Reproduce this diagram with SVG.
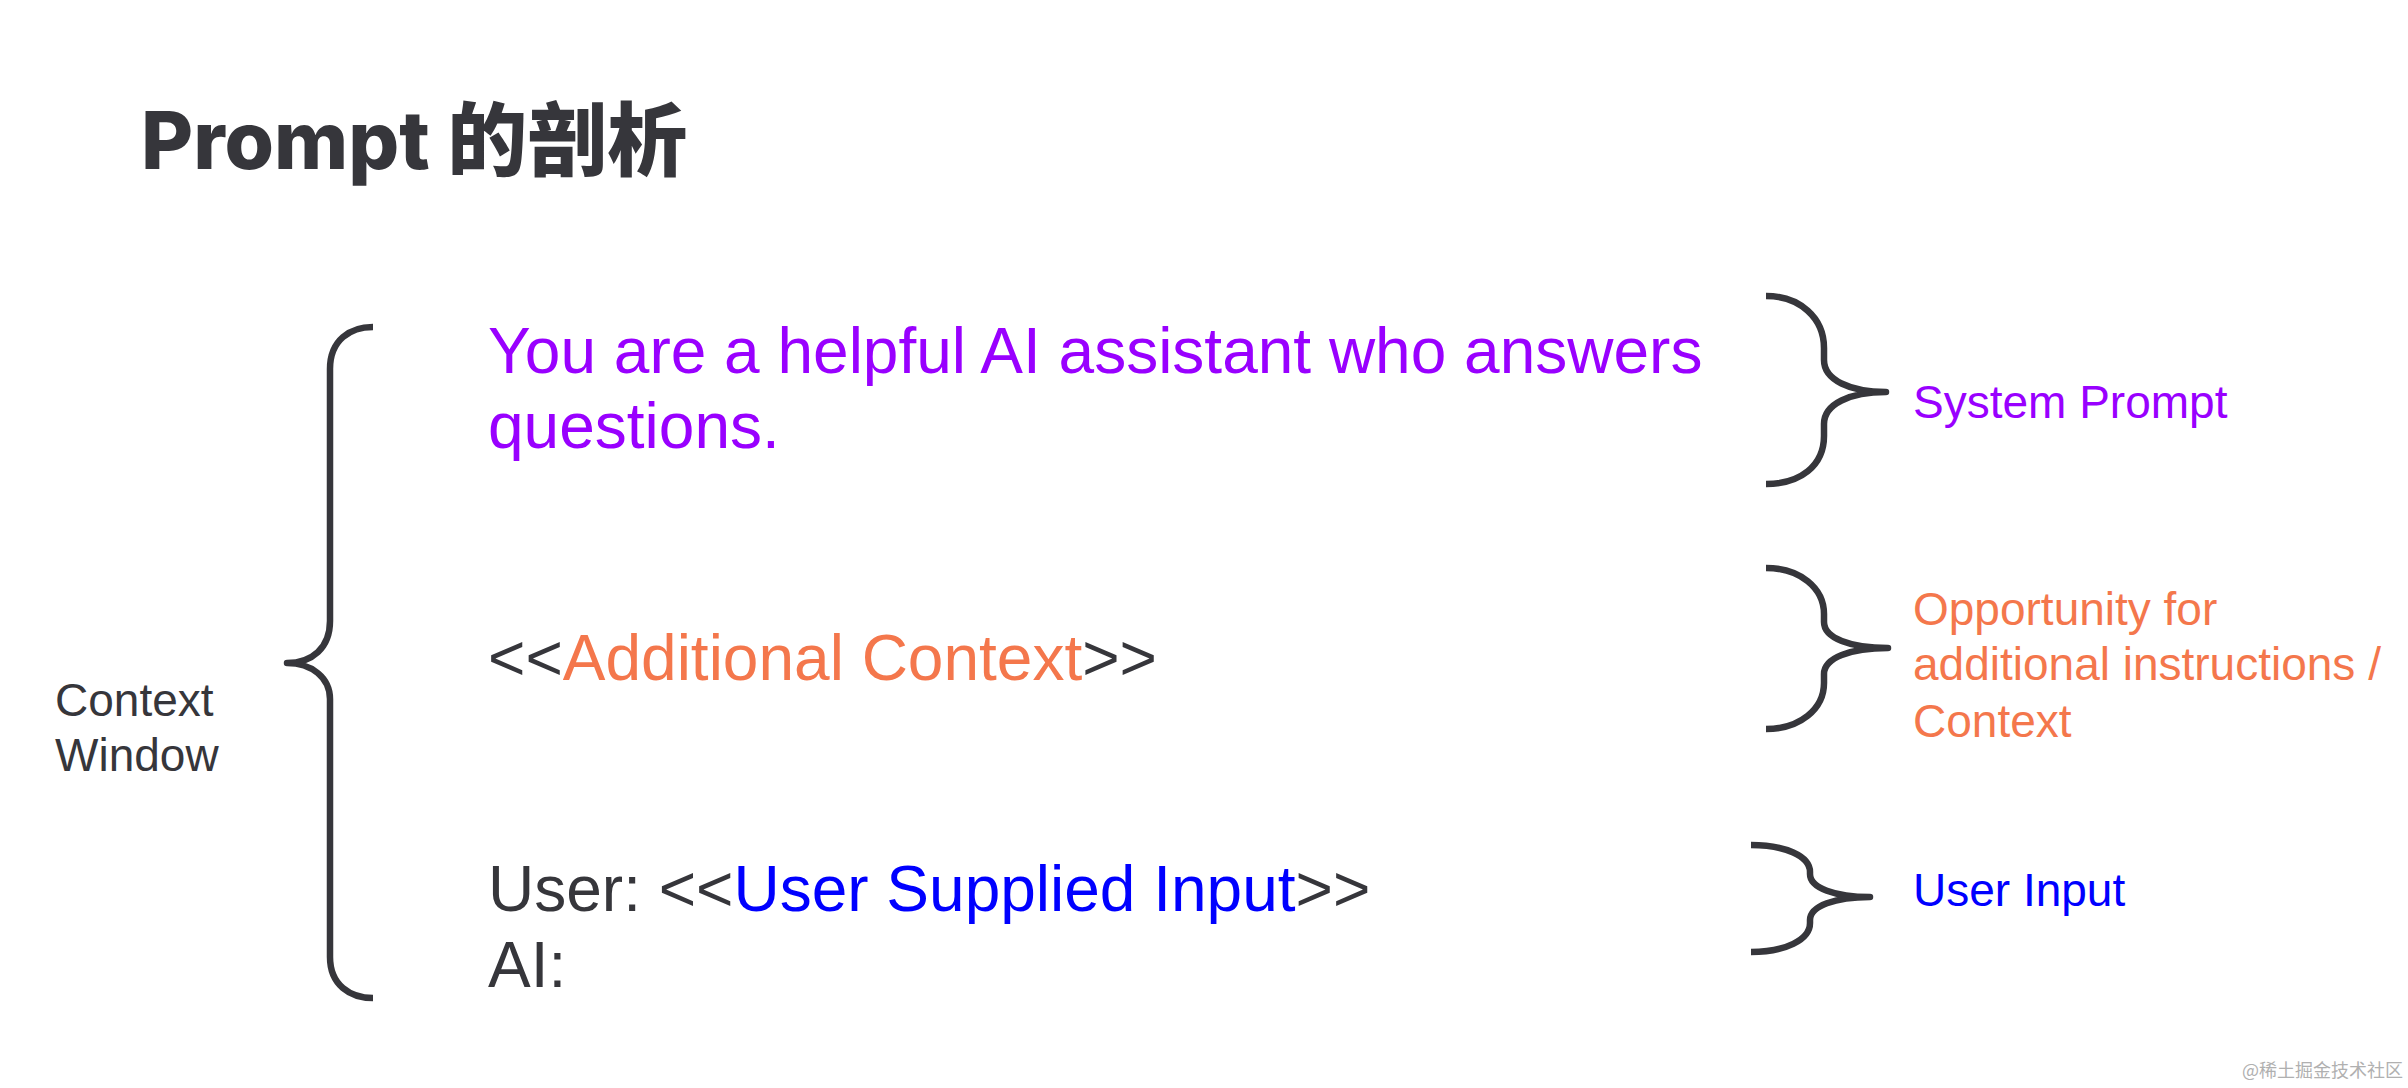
<svg xmlns="http://www.w3.org/2000/svg" width="2408" height="1088" viewBox="0 0 2408 1088">
<style>
.t{font-family:"Liberation Sans",Arial,"Noto Sans CJK SC",sans-serif;fill:#36363b}
.main{font-size:64px}
.side{font-size:46px}
.purple{fill:#9900ff}
.orange{fill:#f4774c}
.blue{fill:#0000ff}
.brace{fill:none;stroke:#36363b;stroke-width:6.5;stroke-linecap:butt;stroke-linejoin:round}
.title{font-family:Inter,"Noto Sans CJK SC",sans-serif;font-weight:800;font-size:80px;fill:#36363b}
.wm{font-family:"Noto Sans CJK SC",sans-serif;font-size:18px;fill:#b0b0b0}
</style>
<rect width="2408" height="1088" fill="#ffffff"/>
<g id="title"><text class="title" x="141" y="169">Prompt 的剖析</text></g>
<g id="connectors">
<path class="brace" d="M373,327 C350,327 330,340 330,369 L330,621 C330,648 312,663 287,663 C312,663 330,678 330,699 L330,957 C330,985 350,998 373,998"/>
<path class="brace" d="M1766,296 C1800,296 1824,318 1824,348 L1824,360 C1824,380 1850,392 1886,392 C1850,392 1824,404 1824,424 L1824,436 C1824,466 1800,484 1766,484"/>
<path class="brace" d="M1766,568 C1800,568 1824,588 1824,614 L1824,622 C1824,638 1850,648 1888,648 C1850,648 1824,658 1824,674 L1824,683 C1824,709 1800,729 1766,729"/>
<path class="brace" d="M1751,845 C1785,845 1810,856 1810,872 L1810,874 C1810,888 1835,897 1870,897 C1835,897 1810,906 1810,920 L1810,923 C1810,940 1785,952 1751,952"/>
</g>
<g id="context-window"><text class="t side" x="55" y="716">Context</text><text class="t side" x="55" y="771">Window</text></g>
<g id="system-text"><text class="t main purple" x="488" y="373">You are a helpful AI assistant who answers</text><text class="t main purple" x="488" y="448">questions.</text></g>
<g id="additional-context"><text class="t main" x="488" y="680">&lt;&lt;<tspan class="orange">Additional Context</tspan>&gt;&gt;</text></g>
<g id="user-input-text"><text class="t main" x="488" y="911">User: &lt;&lt;<tspan class="blue">User Supplied Input</tspan>&gt;&gt;</text><text class="t main" x="488" y="987">AI:</text></g>
<g id="system-prompt-label"><text class="t side purple" x="1913" y="418">System Prompt</text></g>
<g id="opportunity-label"><text class="t side orange" x="1913" y="625">Opportunity for</text><text class="t side orange" x="1913" y="680">additional instructions /</text><text class="t side orange" x="1913" y="737">Context</text></g>
<g id="user-input-label"><text class="t side blue" x="1913" y="906">User Input</text></g>
<g id="watermark"><text class="wm" x="2242" y="1077">@稀土掘金技术社区</text></g>
</svg>
